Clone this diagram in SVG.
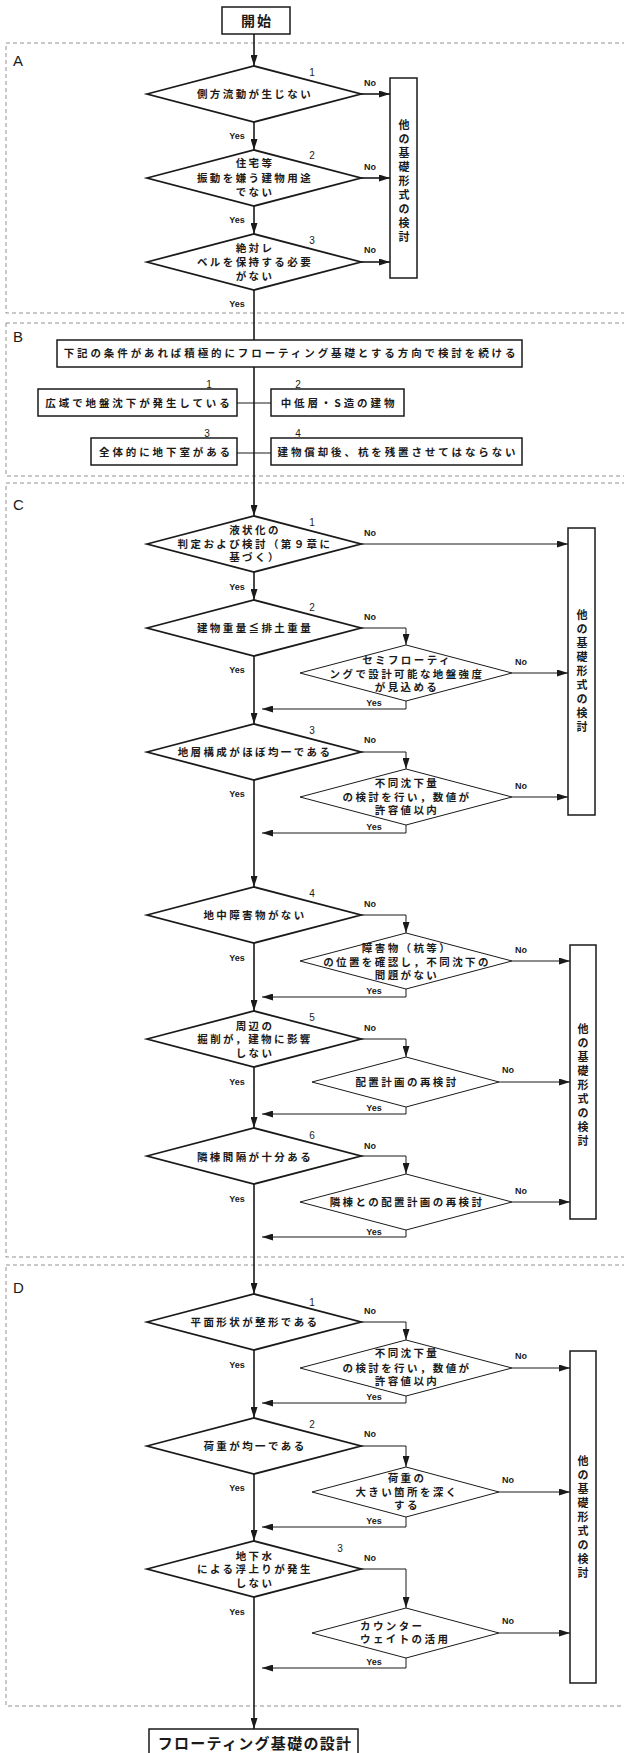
<svg xmlns="http://www.w3.org/2000/svg" width="624" height="1753" viewBox="0 0 624 1753">
<style>
.t{font-family:"Noto Sans CJK JP","Noto Sans CJK SC",sans-serif;font-weight:bold;font-size:10.5px;letter-spacing:2.4px;text-anchor:middle;fill:#1a1a1a}
.tb{letter-spacing:2.9px}
.tv{font-family:"Noto Sans CJK JP","Noto Sans CJK SC",sans-serif;font-weight:bold;font-size:11px;text-anchor:middle;fill:#1a1a1a}
.yn{font-family:"Liberation Sans",Arial,sans-serif;font-weight:bold;font-size:9px;text-anchor:middle;fill:#1a1a1a}
.num{font-family:"Liberation Sans",Arial,sans-serif;font-size:10px;text-anchor:middle;fill:#1a1a1a}
.sec{font-family:"Liberation Sans",Arial,sans-serif;font-size:15px;fill:#1a1a1a}
.md{fill:#fff;stroke:#1a1a1a;stroke-width:1.8}
.sd{fill:#fff;stroke:#1a1a1a;stroke-width:1}
.bx{fill:#fff;stroke:#1a1a1a;stroke-width:1.5}
.area{fill:none;stroke:#777;stroke-width:0.8;stroke-dasharray:4 3}
.ml{fill:none;stroke:#1a1a1a;stroke-width:1.6}
.sl{fill:none;stroke:#1a1a1a;stroke-width:1}
</style>
<defs>
<marker id="ah" markerUnits="userSpaceOnUse" markerWidth="11" markerHeight="7" refX="11" refY="3.5" orient="auto">
<path d="M0,0 L11,3.5 L0,7 z" fill="#1a1a1a"/>
</marker>
</defs>

<g id="areas">
<rect class="area" x="6" y="43" width="640" height="270"/>
<text class="sec" x="13" y="66">A</text>
<rect class="area" x="6" y="323" width="640" height="153"/>
<text class="sec" x="13" y="342">B</text>
<rect class="area" x="6" y="483" width="640" height="774"/>
<text class="sec" x="13" y="510">C</text>
<rect class="area" x="6" y="1265" width="640" height="441"/>
<text class="sec" x="13" y="1293">D</text>
</g>

<g id="connectors">
<!-- main line -->
<line class="ml" x1="254" y1="34" x2="254" y2="66" marker-end="url(#ah)"/>
<line class="ml" x1="254" y1="122" x2="254" y2="150" marker-end="url(#ah)"/>
<line class="ml" x1="254" y1="206" x2="254" y2="234" marker-end="url(#ah)"/>
<line class="ml" x1="254" y1="290" x2="254" y2="516" marker-end="url(#ah)"/>
<line class="ml" x1="254" y1="572" x2="254" y2="600" marker-end="url(#ah)"/>
<line class="ml" x1="254" y1="656" x2="254" y2="724" marker-end="url(#ah)"/>
<line class="ml" x1="254" y1="780" x2="254" y2="887" marker-end="url(#ah)"/>
<line class="ml" x1="254" y1="943" x2="254" y2="1011" marker-end="url(#ah)"/>
<line class="ml" x1="254" y1="1067" x2="254" y2="1128" marker-end="url(#ah)"/>
<line class="ml" x1="254" y1="1184" x2="254" y2="1294" marker-end="url(#ah)"/>
<line class="ml" x1="254" y1="1350" x2="254" y2="1418" marker-end="url(#ah)"/>
<line class="ml" x1="254" y1="1474" x2="254" y2="1541" marker-end="url(#ah)"/>
<line class="ml" x1="254" y1="1597" x2="254" y2="1729" marker-end="url(#ah)"/>
<!-- A No -->
<line class="ml" x1="361" y1="94" x2="390" y2="94" marker-end="url(#ah)"/>
<line class="ml" x1="361" y1="178" x2="390" y2="178" marker-end="url(#ah)"/>
<line class="ml" x1="361" y1="262" x2="390" y2="262" marker-end="url(#ah)"/>
<!-- B -->
<line class="sl" x1="237" y1="403" x2="271" y2="403"/>
<line class="sl" x1="237" y1="453" x2="271" y2="453"/>
<!-- C1 No -->
<line class="sl" x1="361" y1="544" x2="568" y2="544" marker-end="url(#ah)"/>
<!-- C2 -->
<polyline class="sl" points="361,628 406,628 406,645" marker-end="url(#ah)"/>
<line class="sl" x1="512" y1="673" x2="568" y2="673" marker-end="url(#ah)"/>
<polyline class="sl" points="406,701 406,709 262,709" marker-end="url(#ah)"/>
<!-- C3 -->
<polyline class="sl" points="361,752 406,752 406,769" marker-end="url(#ah)"/>
<line class="sl" x1="512" y1="797" x2="568" y2="797" marker-end="url(#ah)"/>
<polyline class="sl" points="406,825 406,833 262,833" marker-end="url(#ah)"/>
<!-- C4 -->
<polyline class="sl" points="361,915 406,915 406,933" marker-end="url(#ah)"/>
<line class="sl" x1="512" y1="961" x2="570" y2="961" marker-end="url(#ah)"/>
<polyline class="sl" points="406,989 406,997 262,997" marker-end="url(#ah)"/>
<!-- C5 -->
<polyline class="sl" points="361,1039 406,1039 406,1057" marker-end="url(#ah)"/>
<line class="sl" x1="499" y1="1082" x2="570" y2="1082" marker-end="url(#ah)"/>
<polyline class="sl" points="406,1107 406,1114 262,1114" marker-end="url(#ah)"/>
<!-- C6 -->
<polyline class="sl" points="361,1156 406,1156 406,1174" marker-end="url(#ah)"/>
<line class="sl" x1="512" y1="1202" x2="570" y2="1202" marker-end="url(#ah)"/>
<polyline class="sl" points="406,1230 406,1237 262,1237" marker-end="url(#ah)"/>
<!-- D1 -->
<polyline class="sl" points="361,1322 406,1322 406,1340" marker-end="url(#ah)"/>
<line class="sl" x1="512" y1="1368" x2="570" y2="1368" marker-end="url(#ah)"/>
<polyline class="sl" points="406,1396 406,1403 262,1403" marker-end="url(#ah)"/>
<!-- D2 -->
<polyline class="sl" points="361,1446 406,1446 406,1467" marker-end="url(#ah)"/>
<line class="sl" x1="499" y1="1492" x2="570" y2="1492" marker-end="url(#ah)"/>
<polyline class="sl" points="406,1517 406,1527 262,1527" marker-end="url(#ah)"/>
<!-- D3 -->
<polyline class="sl" points="361,1569 406,1569 406,1608" marker-end="url(#ah)"/>
<line class="sl" x1="499" y1="1633" x2="570" y2="1633" marker-end="url(#ah)"/>
<polyline class="sl" points="406,1658 406,1668 262,1668" marker-end="url(#ah)"/>
</g>

<g id="start">
<rect class="bx" x="222" y="7" width="68" height="27"/>
<text class="t" x="257" y="26" style="font-size:14px;letter-spacing:2px">開始</text>
</g>

<!-- Section A -->
<g id="A1">
<polygon class="md" points="147,94 254,66 361,94 254,122"/>
<text class="t" x="255" y="98">側方流動が生じない</text>
<text class="num" x="312" y="76">1</text>
<text class="yn" x="370" y="86">No</text>
<text class="yn" x="237" y="139">Yes</text>
</g>
<g id="A2">
<polygon class="md" points="147,178 254,150 361,178 254,206"/>
<text class="t" x="255" y="167">住宅等</text>
<text class="t" x="255" y="182">振動を嫌う建物用途</text>
<text class="t" x="255" y="196">でない</text>
<text class="num" x="312" y="159">2</text>
<text class="yn" x="370" y="170">No</text>
<text class="yn" x="237" y="223">Yes</text>
</g>
<g id="A3">
<polygon class="md" points="147,262 254,234 361,262 254,290"/>
<text class="t" x="255" y="252">絶対レ</text>
<text class="t" x="255" y="266">ベルを保持する必要</text>
<text class="t" x="255" y="280">がない</text>
<text class="num" x="312" y="244">3</text>
<text class="yn" x="370" y="253">No</text>
<text class="yn" x="237" y="307">Yes</text>
</g>
<g id="A-other">
<rect class="bx" x="390" y="78" width="27" height="200"/>
<text class="tv"><tspan x="404" y="129">他</tspan><tspan x="404" y="143">の</tspan><tspan x="404" y="157">基</tspan><tspan x="404" y="171">礎</tspan><tspan x="404" y="185">形</tspan><tspan x="404" y="199">式</tspan><tspan x="404" y="213">の</tspan><tspan x="404" y="227">検</tspan><tspan x="404" y="241">討</tspan></text>
</g>

<!-- Section B -->
<g id="B0">
<rect class="bx" x="57" y="340" width="465" height="27"/>
<text class="t tb" x="291" y="357">下記の条件があれば積極的にフローティング基礎とする方向で検討を続ける</text>
</g>
<g id="B1">
<rect class="bx" x="38" y="389" width="199" height="27"/>
<text class="t tb" x="139" y="407">広域で地盤沈下が発生している</text>
<text class="num" x="209" y="388">1</text>
</g>
<g id="B2">
<rect class="bx" x="271" y="389" width="133" height="27"/>
<text class="t tb" x="339" y="407">中低層・S造の建物</text>
<text class="num" x="298" y="388">2</text>
</g>
<g id="B3">
<rect class="bx" x="91" y="438" width="146" height="27"/>
<text class="t tb" x="166" y="456">全体的に地下室がある</text>
<text class="num" x="207" y="437">3</text>
</g>
<g id="B4">
<rect class="bx" x="271" y="438" width="251" height="27"/>
<text class="t tb" x="398" y="456">建物償却後、杭を残置させてはならない</text>
<text class="num" x="298" y="437">4</text>
</g>

<!-- Section C -->
<g id="C1">
<polygon class="md" points="147,544 254,516 361,544 254,572"/>
<text class="t" x="255" y="534">液状化の</text>
<text class="t" x="255" y="548">判定および検討（第９章に</text>
<text class="t" x="255" y="561">基づく）</text>
<text class="num" x="312" y="526">1</text>
<text class="yn" x="370" y="536">No</text>
<text class="yn" x="237" y="590">Yes</text>
</g>
<g id="C-other1">
<rect class="bx" x="568" y="528" width="27" height="287"/>
<text class="tv"><tspan x="582" y="619">他</tspan><tspan x="582" y="633">の</tspan><tspan x="582" y="647">基</tspan><tspan x="582" y="661">礎</tspan><tspan x="582" y="675">形</tspan><tspan x="582" y="689">式</tspan><tspan x="582" y="703">の</tspan><tspan x="582" y="717">検</tspan><tspan x="582" y="731">討</tspan></text>
</g>
<g id="C2">
<polygon class="md" points="147,628 254,600 361,628 254,656"/>
<text class="t" x="255" y="632">建物重量≦排土重量</text>
<text class="num" x="312" y="611">2</text>
<text class="yn" x="370" y="620">No</text>
<text class="yn" x="237" y="673">Yes</text>
</g>
<g id="C2b">
<polygon class="sd" points="300,673 406,645 512,673 406,701"/>
<text class="t" x="407" y="664">セミフローティ</text>
<text class="t" x="407" y="678">ングで設計可能な地盤強度</text>
<text class="t" x="407" y="691">が見込める</text>
<text class="yn" x="521" y="665">No</text>
<text class="yn" x="374" y="706">Yes</text>
</g>
<g id="C3">
<polygon class="md" points="147,752 254,724 361,752 254,780"/>
<text class="t" x="255" y="756">地層構成がほぼ均一である</text>
<text class="num" x="312" y="734">3</text>
<text class="yn" x="370" y="743">No</text>
<text class="yn" x="237" y="797">Yes</text>
</g>
<g id="C3b">
<polygon class="sd" points="300,797 406,769 512,797 406,825"/>
<text class="t" x="407" y="787">不同沈下量</text>
<text class="t" x="407" y="801">の検討を行い，数値が</text>
<text class="t" x="407" y="814">許容値以内</text>
<text class="yn" x="521" y="789">No</text>
<text class="yn" x="374" y="830">Yes</text>
</g>
<g id="C4">
<polygon class="md" points="147,915 254,887 361,915 254,943"/>
<text class="t" x="255" y="919">地中障害物がない</text>
<text class="num" x="312" y="897">4</text>
<text class="yn" x="370" y="907">No</text>
<text class="yn" x="237" y="961">Yes</text>
</g>
<g id="C4b">
<polygon class="sd" points="300,961 406,933 512,961 406,989"/>
<text class="t" x="407" y="952">障害物（杭等）</text>
<text class="t" x="407" y="966">の位置を確認し，不同沈下の</text>
<text class="t" x="407" y="979">問題がない</text>
<text class="yn" x="521" y="953">No</text>
<text class="yn" x="374" y="994">Yes</text>
</g>
<g id="C-other2">
<rect class="bx" x="570" y="945" width="26" height="274"/>
<text class="tv"><tspan x="583" y="1033">他</tspan><tspan x="583" y="1047">の</tspan><tspan x="583" y="1061">基</tspan><tspan x="583" y="1075">礎</tspan><tspan x="583" y="1089">形</tspan><tspan x="583" y="1103">式</tspan><tspan x="583" y="1117">の</tspan><tspan x="583" y="1131">検</tspan><tspan x="583" y="1145">討</tspan></text>
</g>
<g id="C5">
<polygon class="md" points="147,1039 254,1011 361,1039 254,1067"/>
<text class="t" x="255" y="1030">周辺の</text>
<text class="t" x="255" y="1043">掘削が，建物に影響</text>
<text class="t" x="255" y="1057">しない</text>
<text class="num" x="312" y="1021">5</text>
<text class="yn" x="370" y="1031">No</text>
<text class="yn" x="237" y="1085">Yes</text>
</g>
<g id="C5b">
<polygon class="sd" points="312,1082 406,1057 499,1082 406,1107"/>
<text class="t" x="407" y="1086">配置計画の再検討</text>
<text class="yn" x="508" y="1073">No</text>
<text class="yn" x="374" y="1111">Yes</text>
</g>
<g id="C6">
<polygon class="md" points="147,1156 254,1128 361,1156 254,1184"/>
<text class="t" x="255" y="1161">隣棟間隔が十分ある</text>
<text class="num" x="312" y="1139">6</text>
<text class="yn" x="370" y="1149">No</text>
<text class="yn" x="237" y="1202">Yes</text>
</g>
<g id="C6b">
<polygon class="sd" points="300,1202 406,1174 512,1202 406,1230"/>
<text class="t" x="407" y="1206">隣棟との配置計画の再検討</text>
<text class="yn" x="521" y="1194">No</text>
<text class="yn" x="374" y="1235">Yes</text>
</g>

<!-- Section D -->
<g id="D1">
<polygon class="md" points="147,1322 254,1294 361,1322 254,1350"/>
<text class="t" x="255" y="1326">平面形状が整形である</text>
<text class="num" x="312" y="1306">1</text>
<text class="yn" x="370" y="1314">No</text>
<text class="yn" x="237" y="1368">Yes</text>
</g>
<g id="D1b">
<polygon class="sd" points="300,1368 406,1340 512,1368 406,1396"/>
<text class="t" x="407" y="1357">不同沈下量</text>
<text class="t" x="407" y="1372">の検討を行い，数値が</text>
<text class="t" x="407" y="1385">許容値以内</text>
<text class="yn" x="521" y="1359">No</text>
<text class="yn" x="374" y="1400">Yes</text>
</g>
<g id="D-other">
<rect class="bx" x="570" y="1351" width="26" height="332"/>
<text class="tv"><tspan x="583" y="1465">他</tspan><tspan x="583" y="1479">の</tspan><tspan x="583" y="1493">基</tspan><tspan x="583" y="1507">礎</tspan><tspan x="583" y="1521">形</tspan><tspan x="583" y="1535">式</tspan><tspan x="583" y="1549">の</tspan><tspan x="583" y="1563">検</tspan><tspan x="583" y="1577">討</tspan></text>
</g>
<g id="D2">
<polygon class="md" points="147,1446 254,1418 361,1446 254,1474"/>
<text class="t" x="255" y="1450">荷重が均一である</text>
<text class="num" x="312" y="1428">2</text>
<text class="yn" x="370" y="1437">No</text>
<text class="yn" x="237" y="1491">Yes</text>
</g>
<g id="D2b">
<polygon class="sd" points="312,1492 406,1467 499,1492 406,1517"/>
<text class="t" x="407" y="1482">荷重の</text>
<text class="t" x="407" y="1496">大きい箇所を深く</text>
<text class="t" x="407" y="1509">する</text>
<text class="yn" x="508" y="1483">No</text>
<text class="yn" x="374" y="1524">Yes</text>
</g>
<g id="D3">
<polygon class="md" points="147,1569 254,1541 361,1569 254,1597"/>
<text class="t" x="255" y="1560">地下水</text>
<text class="t" x="255" y="1573">による浮上りが発生</text>
<text class="t" x="255" y="1587">しない</text>
<text class="num" x="340" y="1552">3</text>
<text class="yn" x="370" y="1561">No</text>
<text class="yn" x="237" y="1615">Yes</text>
</g>
<g id="D3b">
<polygon class="sd" points="312,1633 406,1608 499,1633 406,1658"/>
<text class="t" x="360" y="1630" style="text-anchor:start">カウンター</text>
<text class="t" x="360" y="1643" style="text-anchor:start">ウェイトの活用</text>
<text class="yn" x="508" y="1624">No</text>
<text class="yn" x="374" y="1665">Yes</text>
</g>

<g id="end">
<rect class="bx" x="149" y="1729" width="209" height="30"/>
<text class="t" x="255" y="1749" style="font-size:15px;letter-spacing:1.3px">フローティング基礎の設計</text>
</g>
</svg>
